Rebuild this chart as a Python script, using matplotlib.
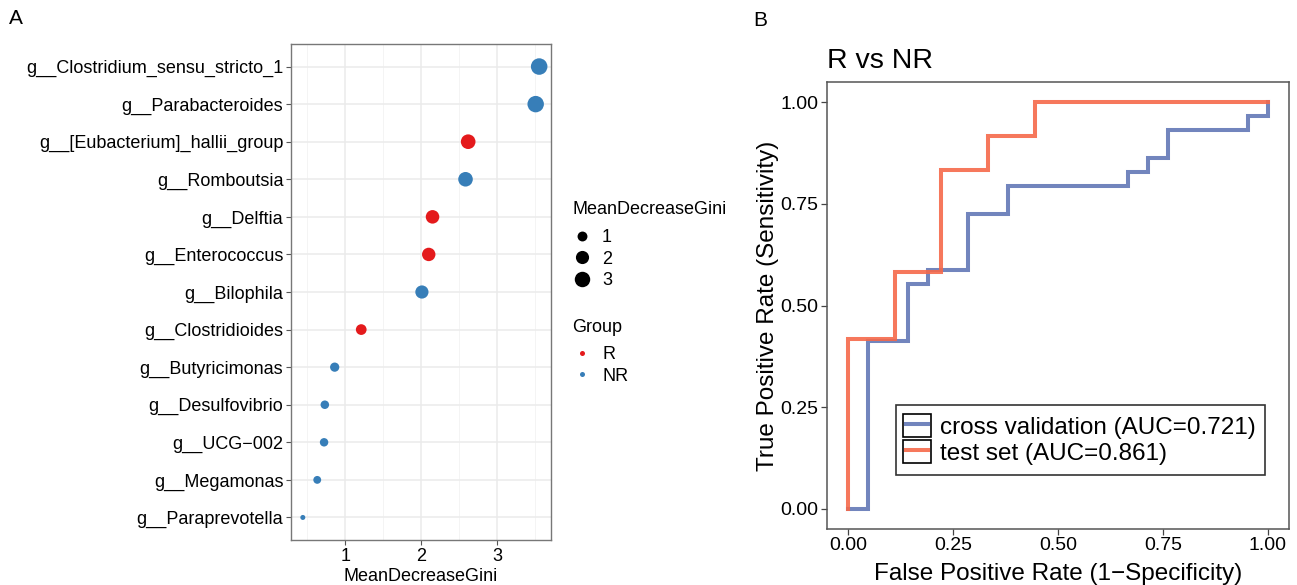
import numpy as np
import matplotlib
matplotlib.use("Agg")
import matplotlib.pyplot as plt
from matplotlib.lines import Line2D
from matplotlib.patches import Rectangle
from matplotlib.legend_handler import HandlerLine2D

plt.rcParams["font.family"] = ["Liberation Sans", "DejaVu Sans"]

# ---- panel A data (top to bottom) ----
GENERA = [
    "g__Clostridium_sensu_stricto_1", "g__Parabacteroides", "g__[Eubacterium]_hallii_group",
    "g__Romboutsia", "g__Delftia", "g__Enterococcus", "g__Bilophila", "g__Clostridioides",
    "g__Butyricimonas", "g__Desulfovibrio", "g__UCG\u2212002", "g__Megamonas", "g__Paraprevotella",
]
GINI = [3.556, 3.51, 2.62, 2.585, 2.15, 2.10, 2.01, 1.21, 0.86, 0.73, 0.72, 0.63, 0.44]
GROUP = ["NR", "NR", "R", "NR", "R", "R", "NR", "R", "NR", "NR", "NR", "NR", "NR"]
SIZE_BREAKS = [1, 2, 3]

# ---- panel B data (ROC step vertices) ----
CV_FPR = [0, 1/21, 1/21, 3/21, 3/21, 4/21, 4/21, 6/21, 6/21, 8/21, 8/21, 14/21, 14/21,
          15/21, 15/21, 16/21, 16/21, 20/21, 20/21, 1, 1]
CV_TPR = [0, 0, 12/29, 12/29, 16/29, 16/29, 17/29, 17/29, 21/29, 21/29, 23/29, 23/29, 24/29,
          24/29, 25/29, 25/29, 27/29, 27/29, 28/29, 28/29, 1]
TEST_FPR = [0, 0, 1/9, 1/9, 2/9, 2/9, 3/9, 3/9, 4/9, 4/9, 1]
TEST_TPR = [0, 5/12, 5/12, 7/12, 7/12, 10/12, 10/12, 11/12, 11/12, 1, 1]
CV_AUC = 0.721
TEST_AUC = 0.861

COLORS = {"R": "#E41A1C", "NR": "#377EB8"}
CV_COLOR = "#6A7FBA"
TEST_COLOR = "#F5694A"

W, H = 1297, 585
fig = plt.figure(figsize=(W / 100, H / 100), dpi=100)

vmin, vmax = min(GINI), max(GINI)


def diam(v):
    # point diameter (pt), area-style scaling like ggplot's scale_size
    return 3.6 + (11.9 - 3.6) * np.sqrt(max(v - vmin, 0) / (vmax - vmin))


# ---------------- panel A ----------------
ax1 = fig.add_axes([291 / W, 1 - 540 / H, 260 / W, 496 / H])
n = len(GENERA)
ypos = np.arange(n)[::-1]
ax1.scatter(GINI, ypos, s=[diam(v) ** 2 for v in GINI],
            c=[COLORS[g] for g in GROUP], linewidths=0, zorder=3)
ax1.set_xlim(0.284, 3.712)
ax1.set_ylim(-0.6, n - 0.4)
ax1.set_yticks(ypos)
ax1.set_yticklabels(GENERA)
ax1.set_xticks([1, 2, 3])
ax1.set_xticks([0.5, 1.5, 2.5, 3.5], minor=True)
ax1.grid(which="major", color="#EBEBEB", linewidth=1.1, zorder=0)
ax1.grid(which="minor", axis="x", color="#F2F2F2", linewidth=0.6, zorder=0)
ax1.tick_params(which="minor", length=0)
ax1.tick_params(which="major", labelsize=13, length=3.5, color="#555555", width=0.8, pad=2)
ax1.set_axisbelow(True)
for sp in ax1.spines.values():
    sp.set_color("#777777")
    sp.set_linewidth(1.0)
ax1.set_xlabel("MeanDecreaseGini", fontsize=13, labelpad=2.5)

# size legend (titles placed as text so the gaps match)
size_handles = [Line2D([], [], ls="none", marker="o", color="black", markeredgewidth=0,
                       markersize=diam(v)) for v in SIZE_BREAKS]
fig.text(572 / W, 1 - 209 / H, "MeanDecreaseGini", fontsize=13, va="center", ha="left")
fig.legend(size_handles, [str(v) for v in SIZE_BREAKS],
           loc="upper left", bbox_to_anchor=(571 / W, 1 - 229 / H), frameon=False,
           fontsize=13, handlelength=1.2,
           handletextpad=0.52, labelspacing=0.26, borderpad=0, borderaxespad=0)
grp_handles = [Line2D([], [], ls="none", marker="o", color=COLORS[g], markeredgewidth=0,
                      markersize=3.6) for g in ["R", "NR"]]
fig.text(572 / W, 1 - 327 / H, "Group", fontsize=13, va="center", ha="left")
fig.legend(grp_handles, ["R", "NR"],
           loc="upper left", bbox_to_anchor=(571 / W, 1 - 346 / H), frameon=False,
           fontsize=13, handlelength=1.2,
           handletextpad=0.52, labelspacing=0.26, borderpad=0, borderaxespad=0)

fig.text(9 / W, 1 - 19 / H, "A", fontsize=15, va="center", ha="left")
fig.text(753 / W, 1 - 20 / H, "B", fontsize=15, va="center", ha="left")

# ---------------- panel B ----------------
ax2 = fig.add_axes([827 / W, 1 - 529 / H, 462 / W, 447 / H])
ax2.plot(CV_FPR, CV_TPR, color=CV_COLOR, lw=2.9, alpha=0.95, solid_joinstyle="miter",
         label=f"cross validation (AUC={CV_AUC:.3f})")
ax2.plot(TEST_FPR, TEST_TPR, color=TEST_COLOR, lw=2.9, alpha=0.9, solid_joinstyle="miter",
         label=f"test set (AUC={TEST_AUC:.3f})")
ax2.set_xlim(-0.05, 1.05)
ax2.set_ylim(-0.05, 1.05)
ticks = [0, 0.25, 0.5, 0.75, 1.0]
ax2.set_xticks(ticks)
ax2.set_yticks(ticks)
ax2.set_xticklabels([f"{t:.2f}" for t in ticks])
ax2.set_yticklabels([f"{t:.2f}" for t in ticks])
ax2.tick_params(labelsize=14, length=4, color="#444444", width=0.9, pad=2)
for sp in ax2.spines.values():
    sp.set_color("#555555")
    sp.set_linewidth(1.1)
ax2.set_xlabel("False Positive Rate (1\u2212Specificity)", fontsize=17.5, labelpad=6.5)
ax2.set_ylabel("True Positive Rate (Sensitivity)", fontsize=17.5, labelpad=1)
ax2.set_title("R vs NR", loc="left", fontsize=20.5, pad=10)


class BoxedKey(HandlerLine2D):
    def create_artists(self, legend, orig_handle, xdescent, ydescent, width, height,
                       fontsize, trans):
        arts = super().create_artists(legend, orig_handle, xdescent, ydescent, width,
                                      height, fontsize, trans)
        px = 0.12 * fontsize
        py = 0.035 * fontsize
        box = Rectangle((-xdescent - px, -ydescent - py), width + 2 * px,
                        height + 2 * py, fill=False, ec="black", lw=1.2,
                        transform=trans)
        return [box] + arts


leg = ax2.legend(loc="upper left", bbox_to_anchor=(896 / W, 1 - 405 / H),
                 bbox_transform=fig.transFigure, fontsize=17.5, fancybox=False,
                 handlelength=0.9, handleheight=1.0, labelspacing=0.07,
                 handletextpad=0.5, borderpad=0.4, borderaxespad=0,
                 handler_map={Line2D: BoxedKey()})
leg.get_frame().set_edgecolor("black")
leg.get_frame().set_linewidth(1.2)

fig.savefig("out.png", dpi=100)
